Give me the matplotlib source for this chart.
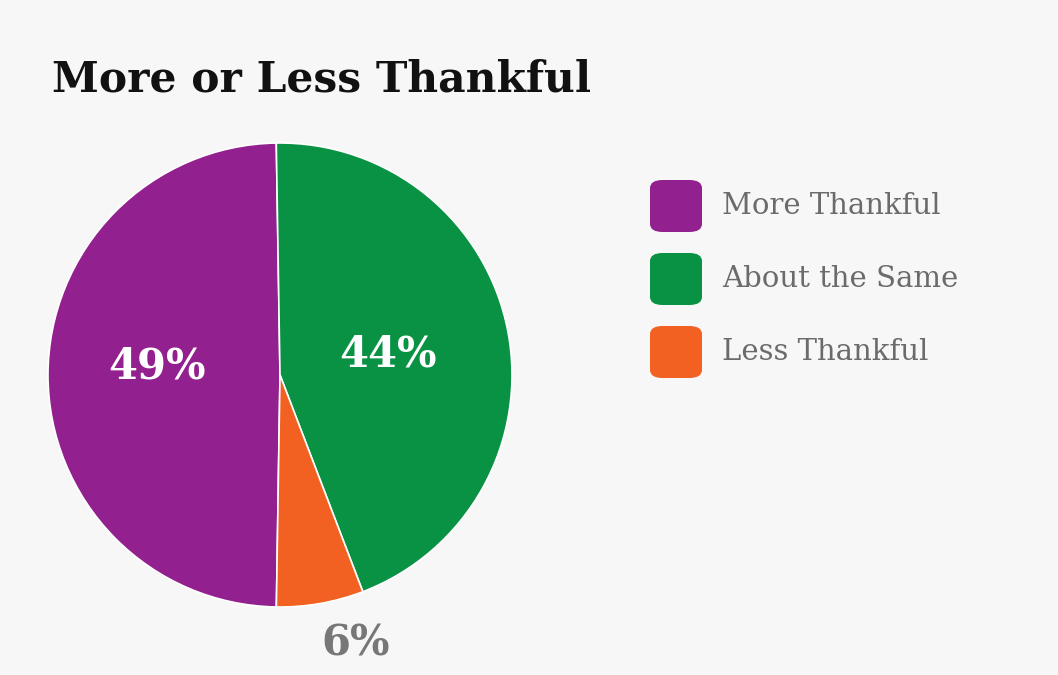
import matplotlib
matplotlib.use("Agg")
import matplotlib.pyplot as plt
from matplotlib.patches import FancyBboxPatch

categories = ["More Thankful", "About the Same", "Less Thankful"]
values = [49, 44, 6]
colors = ["#93208f", "#0a9244", "#f26122"]
title = "More or Less Thankful"

W, H = 1058, 675
fig = plt.figure(figsize=(W / 100, H / 100), dpi=100)
fig.patch.set_facecolor("#f7f7f7")

cx, cy, r = 280, 375, 232
ax = fig.add_axes([(cx - r) / W, (H - cy - r) / H, 2 * r / W, 2 * r / H])
ax.set_facecolor("none")
wedges, texts, autotexts = ax.pie(
    values, colors=colors, startangle=269.1, counterclock=False,
    autopct=lambda p: f"{p * sum(values) / 100:.0f}%", pctdistance=0.5,
    wedgeprops=dict(edgecolor="white", linewidth=1.2),
    textprops=dict(family="DejaVu Serif", fontweight="bold", fontsize=30, color="white"),
)
ax.set_xlim(-1, 1)
ax.set_ylim(-1, 1)
ax.set_aspect("equal")
ax.axis("off")

# fine-tune label placement
x, y = autotexts[0].get_position()
autotexts[0].set_position((x * 1.06, y + 0.035))
x, y = autotexts[1].get_position()
autotexts[1].set_position((x * 0.95, y * 0.95))
x, y = autotexts[2].get_position()
autotexts[2].set_position((x * 2.35 + 0.12, y * 2.35))
autotexts[2].set_color("#777777")

fig.text(52 / W, 1 - 80 / H, title, family="DejaVu Serif", fontweight="bold",
         fontsize=30.5, color="#111111", va="center", ha="left")

for i, (lab, col) in enumerate(zip(categories, colors)):
    yc = 206 + i * 73
    box = FancyBboxPatch((650 / W, 1 - (yc + 26) / H), 52 / W, 52 / H,
                         boxstyle="round,pad=0,rounding_size=0.012",
                         transform=fig.transFigure, facecolor=col, edgecolor="none")
    fig.patches.append(box)
    fig.text(722 / W, 1 - yc / H, lab, family="DejaVu Serif", fontsize=21,
             color="#6b6b6b", va="center", ha="left")

fig.savefig("out.png", dpi=100, facecolor=fig.get_facecolor())
